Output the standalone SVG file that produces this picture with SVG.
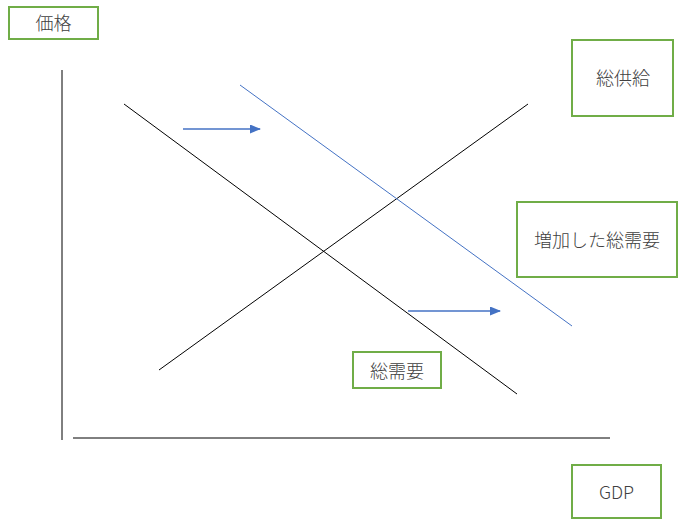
<svg xmlns="http://www.w3.org/2000/svg" width="682" height="521" viewBox="0 0 682 521">
<style>
.box{fill:#fff;stroke:#70AD47;stroke-width:2}
.t{font-family:"Noto Sans CJK JP","Noto Sans",sans-serif;font-size:18px;font-weight:300;fill:#404040;text-anchor:middle;dominant-baseline:central}
.k{stroke:#000;stroke-width:1;fill:none}
.b{stroke:#4472C4;stroke-width:1;fill:none}
.a{stroke:#4472C4;stroke-width:1.5;fill:none;marker-end:url(#ah)}
</style>
<defs>
<marker id="ah" markerWidth="11" markerHeight="9" refX="10" refY="4.5" orient="auto" markerUnits="userSpaceOnUse">
<path d="M0,0 L11,4.5 L0,9 Z" fill="#4472C4"/>
</marker>
</defs>
<rect width="682" height="521" fill="#fff"/>
<g id="connectors">
<line class="k" x1="62" y1="70" x2="62" y2="440"/>
<line class="k" x1="73" y1="438" x2="610" y2="438"/>
<line class="k" x1="124" y1="104" x2="517" y2="394"/>
<line class="k" x1="159" y1="370" x2="528" y2="104"/>
<line class="b" x1="240" y1="85" x2="572" y2="326"/>
<line class="a" x1="183" y1="129" x2="260" y2="129"/>
<line class="a" x1="408" y1="311" x2="500" y2="311"/>
</g>
<g id="price"><rect class="box" x="9" y="7" width="89" height="32"/><text class="t" x="53.5" y="22">価格</text></g>
<g id="supply"><rect class="box" x="572" y="40" width="101" height="76"/><text class="t" x="623" y="77">総供給</text></g>
<g id="increased-demand"><rect class="box" x="517" y="202" width="160" height="75"/><text class="t" x="597" y="239">増加した総需要</text></g>
<g id="demand"><rect class="box" x="353" y="352" width="88" height="36"/><text class="t" x="397" y="369.5">総需要</text></g>
<g id="gdp"><rect class="box" x="572" y="465" width="89" height="53"/><text class="t" x="616.5" y="491">GDP</text></g>
</svg>
